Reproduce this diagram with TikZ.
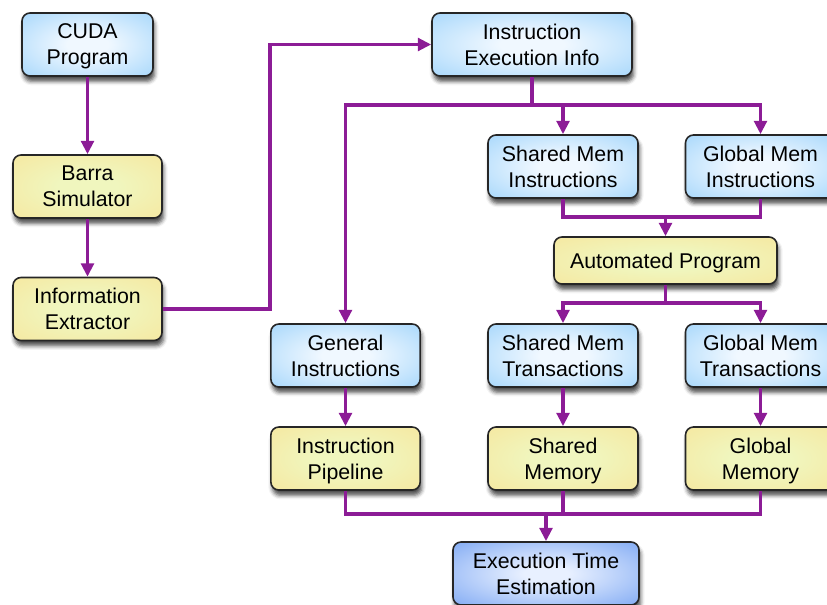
\documentclass[tikz,border=0pt]{standalone}
\usepackage{fontspec}
\setmainfont{Liberation Sans}
\usetikzlibrary{arrows.meta,shadows.blur}

\definecolor{flow}{RGB}{140,28,150}
\definecolor{bluein}{RGB}{240,248,255}
\definecolor{blueout}{RGB}{142,204,250}
\definecolor{yelin}{RGB}{240,246,190}
\definecolor{yelout}{RGB}{248,226,148}
\definecolor{deepin}{RGB}{232,240,255}
\definecolor{deepout}{RGB}{96,148,240}

\pgfdeclareradialshading{blueshade}{\pgfpointorigin}{color(0bp)=(bluein); color(8bp)=(bluein); color(46bp)=(blueout); color(60bp)=(blueout)}
\pgfdeclareradialshading{yelshade}{\pgfpointorigin}{color(0bp)=(yelin); color(10bp)=(yelin); color(48bp)=(yelout); color(60bp)=(yelout)}
\pgfdeclareradialshading{deepshade}{\pgfpointorigin}{color(0bp)=(deepin); color(6bp)=(deepin); color(46bp)=(deepout); color(60bp)=(deepout)}

\tikzset{
  box/.style={draw=black!85, line width=1.2pt, rounded corners=6pt,
    align=center, inner sep=0pt, text depth=0pt,
    font=\fontsize{16}{19.5}\selectfont,
    blur shadow={shadow xshift=1.2pt, shadow yshift=-4pt,
      shadow opacity=70, shadow blur radius=3pt}},
  bluebox/.style={box, shading=blueshade},
  yelbox/.style={box, shading=yelshade},
  deepbox/.style={box, shading=deepshade},
  sz/.style 2 args={minimum width=#1, minimum height=#2},
  link/.style={draw=flow, line width=2.5pt},
  arr/.style={link, -{Triangle[length=10pt,width=9.5pt]}}
}

\begin{document}
\begin{tikzpicture}[x=0.75pt, y=-0.75pt]
  \useasboundingbox (0,0) rectangle (827,604);

  % left column
  \node[bluebox, sz={98.25pt}{47.25pt}] (cuda) at (87.5,44.5) {CUDA\\Program};
  \node[yelbox, sz={111.75pt}{47.25pt}] (barra) at (87.5,186.5) {Barra\\Simulator};
  \node[yelbox, sz={111.75pt}{47.25pt}] (extract) at (87.5,309) {Information\\Extractor};

  % instruction info and its branches
  \node[bluebox, sz={150pt}{47.25pt}] (iei) at (532,44.5) {Instruction\\Execution Info};
  \node[bluebox, sz={112.5pt}{47.25pt}] (smi) at (563,166.5) {Shared Mem\\Instructions};
  \node[bluebox, sz={112.5pt}{47.25pt}] (gmi) at (760.5,166.5) {Global Mem\\Instructions};
  \node[yelbox, sz={167.25pt}{35.25pt}] (ap) at (665.5,260.5) {Automated Program};

  \node[bluebox, sz={112pt}{47.25pt}] (gi) at (345.5,355.5) {General\\Instructions};
  \node[bluebox, sz={112.5pt}{47.25pt}] (smt) at (563,355.5) {Shared Mem\\Transactions};
  \node[bluebox, sz={112.5pt}{47.25pt}] (gmt) at (760.5,355.5) {Global Mem\\Transactions};

  \node[yelbox, sz={112pt}{47.25pt}] (ip) at (345.5,458.5) {Instruction\\Pipeline};
  \node[yelbox, sz={112.5pt}{47.25pt}] (sm) at (563,458.5) {Shared\\Memory};
  \node[yelbox, sz={112.5pt}{47.25pt}] (gm) at (760.5,458.5) {Global\\Memory};

  \node[deepbox, sz={139.5pt}{47.25pt}] (ete) at (546,573.5) {Execution Time\\Estimation};

  % junction points of the connectors
  \coordinate (j1) at (270,44.5);
  \coordinate (s1) at (532,105);
  \coordinate (m1) at (665.5,217);
  \coordinate (s2) at (665.5,303);
  \coordinate (m2) at (546,514);

  % connectors
  \draw[arr] (cuda) -- (barra);
  \draw[arr] (barra) -- (extract);
  \draw[arr] (extract.east) -| (j1) -- (iei.west);

  \draw[link] (iei.south) -- (s1);
  \draw[arr] (s1) -| (gi.north);
  \draw[arr] (s1) -| (smi.north);
  \draw[arr] (s1) -| (gmi.north);

  \draw[link] (smi.south) |- (m1);
  \draw[link] (gmi.south) |- (m1);
  \draw[arr] (m1) -- (ap.north);

  \draw[link] (ap.south) -- (s2);
  \draw[arr] (s2) -| (smt.north);
  \draw[arr] (s2) -| (gmt.north);

  \draw[arr] (gi) -- (ip);
  \draw[arr] (smt) -- (sm);
  \draw[arr] (gmt) -- (gm);

  \draw[link] (ip.south) |- (m2);
  \draw[link] (sm.south) |- (m2);
  \draw[link] (gm.south) |- (m2);
  \draw[arr] (m2) -- (ete.north);
\end{tikzpicture}
\end{document}
